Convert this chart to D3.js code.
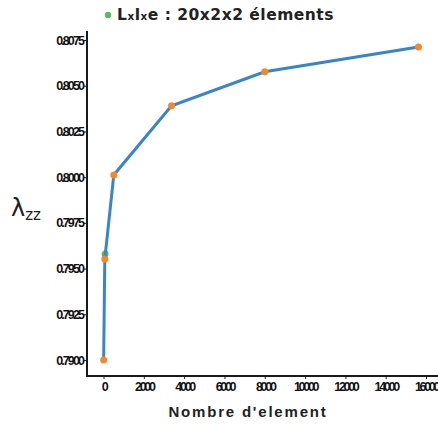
<!DOCTYPE html>
<html><head><meta charset="utf-8">
<script src="https://cdn.jsdelivr.net/npm/d3@7"></script>
<style>
body{margin:0;background:#fff;}
svg{display:block;}
</style></head>
<body>
<script>
// Data
const nElements = [8, 64, 512, 3375, 8000, 15625];
const lambdaZZ = [0.79000, 0.79552, 0.80012, 0.80390, 0.80576, 0.80712];
const highlightN = [80];
const highlightLambda = [0.79580];
const xTicks = [0, 2000, 4000, 6000, 8000, 10000, 12000, 14000, 16000];
const yTicks = [0.7900, 0.7925, 0.7950, 0.7975, 0.8000, 0.8025, 0.8050, 0.8075];

const W = 438, H = 426;
const svg = d3.select("body").append("svg").attr("width", W).attr("height", H);

const x = d3.scaleLinear().domain([0, 16000]).range([103.5, 426]);
const y = d3.scaleLinear().domain([0.7900, 0.8075]).range([360, 40]);

// axes
const xAxis = d3.axisBottom(x).tickValues(xTicks).tickFormat(d3.format("d")).tickSize(3).tickPadding(3);
const yAxis = d3.axisLeft(y).tickValues(yTicks).tickFormat(d3.format(".4f")).tickSize(3).tickPadding(1);

const gx = svg.append("g").attr("transform", "translate(0,376)").call(xAxis);
const gy = svg.append("g").attr("transform", "translate(87,0)").call(yAxis);

[gx, gy].forEach(g => {
  g.select(".domain").remove();
  g.selectAll(".tick line").attr("stroke", "#222").attr("stroke-width", 1);
  g.selectAll(".tick text").attr("fill", "#111")
    .style("font-family", "'Liberation Sans', Arial, sans-serif")
    .style("font-weight", "bold")
    .style("font-size", "12.5px");
});
gx.selectAll(".tick text").style("letter-spacing", "-2.3px");
gy.selectAll(".tick text").style("letter-spacing", "-1.9px");

// axis lines
svg.append("line").attr("x1", 87).attr("x2", 87).attr("y1", 31).attr("y2", 377)
  .attr("stroke", "#1a1a1a").attr("stroke-width", 2);
svg.append("line").attr("x1", 86).attr("x2", 438).attr("y1", 376).attr("y2", 376)
  .attr("stroke", "#1a1a1a").attr("stroke-width", 2);

// highlight point (green)
svg.selectAll("circle.hl").data(highlightN).enter().append("circle")
  .attr("class", "hl")
  .attr("cx", d => x(d)).attr("cy", (d, i) => y(highlightLambda[i]))
  .attr("r", 3.5).attr("fill", "#5cb85c");

// line
const pts = nElements.map((n, i) => [n, lambdaZZ[i]]);
svg.append("path").datum(pts)
  .attr("d", d3.line().x(d => x(d[0])).y(d => y(d[1])))
  .attr("fill", "none").attr("stroke", "#3a84c9").attr("stroke-width", 3);

// orange points
svg.selectAll("circle.pt").data(pts).enter().append("circle")
  .attr("class", "pt")
  .attr("cx", d => x(d[0])).attr("cy", d => y(d[1]))
  .attr("r", 3.5).attr("fill", "#f5892a");

// title / legend
svg.append("circle").attr("cx", 108).attr("cy", 15).attr("r", 3.2).attr("fill", "#5cb85c");
const t = svg.append("text").attr("x", 117).attr("y", 20)
  .style("font-family", "DejaVu Sans, sans-serif").style("font-weight", "bold")
  .style("font-size", "15.5px").style("letter-spacing", "0.5px").attr("fill", "#222");
t.append("tspan").text("L");
t.append("tspan").style("font-size", "10.5px").text("x");
t.append("tspan").text("l");
t.append("tspan").style("font-size", "10.5px").text("x");
t.append("tspan").text("e : 20x2x2 élements");

// x label
svg.append("text").attr("x", 248).attr("y", 417).attr("text-anchor", "middle")
  .style("font-family", "'Liberation Sans', Arial, sans-serif").style("font-weight", "bold")
  .style("font-size", "15px").style("letter-spacing", "1.8px").attr("fill", "#222")
  .text("Nombre d'element");

// y label
const yl = svg.append("text").attr("x", 11).attr("y", 216)
  .style("font-family", "DejaVu Sans, sans-serif").attr("fill", "#222");
yl.append("tspan").style("font-size", "24px").text("λ");
yl.append("tspan").attr("dy", 4).style("font-size", "15px").text("zz");
</script>
</body></html>
